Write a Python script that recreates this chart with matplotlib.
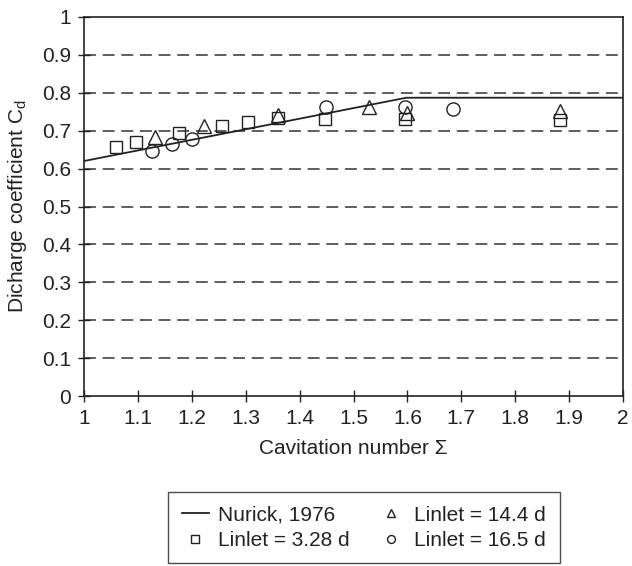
import matplotlib
matplotlib.use("Agg")
import matplotlib.pyplot as plt

plt.rcParams['font.family'] = ['Liberation Sans', 'DejaVu Sans']

# Nurick, 1976 model line
nurick_x = [1.0, 1.598, 2.0]
nurick_y = [0.620, 0.787, 0.787]

# Linlet = 3.28 d (squares)
sq_x = [1.059, 1.096, 1.176, 1.256, 1.304, 1.360, 1.447, 1.596, 1.883]
sq_y = [0.657, 0.669, 0.694, 0.713, 0.724, 0.733, 0.731, 0.732, 0.727]

# Linlet = 14.4 d (triangles)
tri_x = [1.132, 1.223, 1.360, 1.529, 1.600, 1.883]
tri_y = [0.683, 0.713, 0.742, 0.762, 0.747, 0.753]

# Linlet = 16.5 d (circles)
cir_x = [1.127, 1.164, 1.201, 1.449, 1.595, 1.685]
cir_y = [0.647, 0.666, 0.679, 0.762, 0.762, 0.757]

x_ticks = [1, 1.1, 1.2, 1.3, 1.4, 1.5, 1.6, 1.7, 1.8, 1.9, 2]
x_labels = ['1', '1.1', '1.2', '1.3', '1.4', '1.5', '1.6', '1.7', '1.8', '1.9', '2']
y_ticks = [0, 0.1, 0.2, 0.3, 0.4, 0.5, 0.6, 0.7, 0.8, 0.9, 1]
y_labels = ['0', '0.1', '0.2', '0.3', '0.4', '0.5', '0.6', '0.7', '0.8', '0.9', '1']

FS = 15
fig = plt.figure(figsize=(6.32, 5.66), dpi=100)
ax = fig.add_axes([84/632, 1 - 396/566, (623-84)/632, (396-17)/566])

for yv in y_ticks[1:-1]:
    ax.axhline(yv, color='#333333', lw=1.1, ls=(0, (7.8, 4.4)), zorder=1)

ln, = ax.plot(nurick_x, nurick_y, color='#222222', lw=1.3, zorder=2, label='Nurick, 1976')
hs, = ax.plot(sq_x, sq_y, ls='none', marker='s', ms=8.5, mfc='none', mec='#222222', mew=1.0,
              zorder=3, label='Linlet = 3.28 d')
ht, = ax.plot(tri_x, tri_y, ls='none', marker='^', ms=9.5, mfc='none', mec='#222222', mew=1.0,
              zorder=3, label='Linlet = 14.4 d')
hc, = ax.plot(cir_x, cir_y, ls='none', marker='o', ms=9.5, mfc='none', mec='#222222', mew=1.0,
              zorder=3, label='Linlet = 16.5 d')

ax.set_xlim(1, 2)
ax.set_ylim(0, 1)
ax.set_xticks(x_ticks)
ax.set_xticklabels(x_labels)
ax.set_yticks(y_ticks)
ax.set_yticklabels(y_labels)
ax.tick_params(direction='inout', length=9, width=1, labelsize=FS, colors='#222222')
ax.tick_params(axis='x', pad=5)
ax.tick_params(axis='y', pad=5)
for s in ax.spines.values():
    s.set_color('#222222')
    s.set_linewidth(1.2)

ax.set_xlabel('Cavitation number Σ', fontsize=FS, color='#222222', labelpad=8)
ax.set_ylabel('Dicharge coefficient C$_\\mathregular{d}$', fontsize=FS, color='#222222', labelpad=9)

leg = fig.legend(handles=[ln, hs, ht, hc], loc='upper left', ncol=2,
                 bbox_to_anchor=(168/632, 1 - 492/566), fontsize=FS,
                 frameon=True, fancybox=False, edgecolor='#222222',
                 markerscale=0.6, handlelength=1.3, handletextpad=0.45,
                 columnspacing=1.35, labelspacing=0.3, borderpad=0.65,
                 borderaxespad=0)
leg.get_frame().set_linewidth(1.0)
for t in leg.get_texts():
    t.set_color('#222222')

fig.savefig('out.png', dpi=100)
